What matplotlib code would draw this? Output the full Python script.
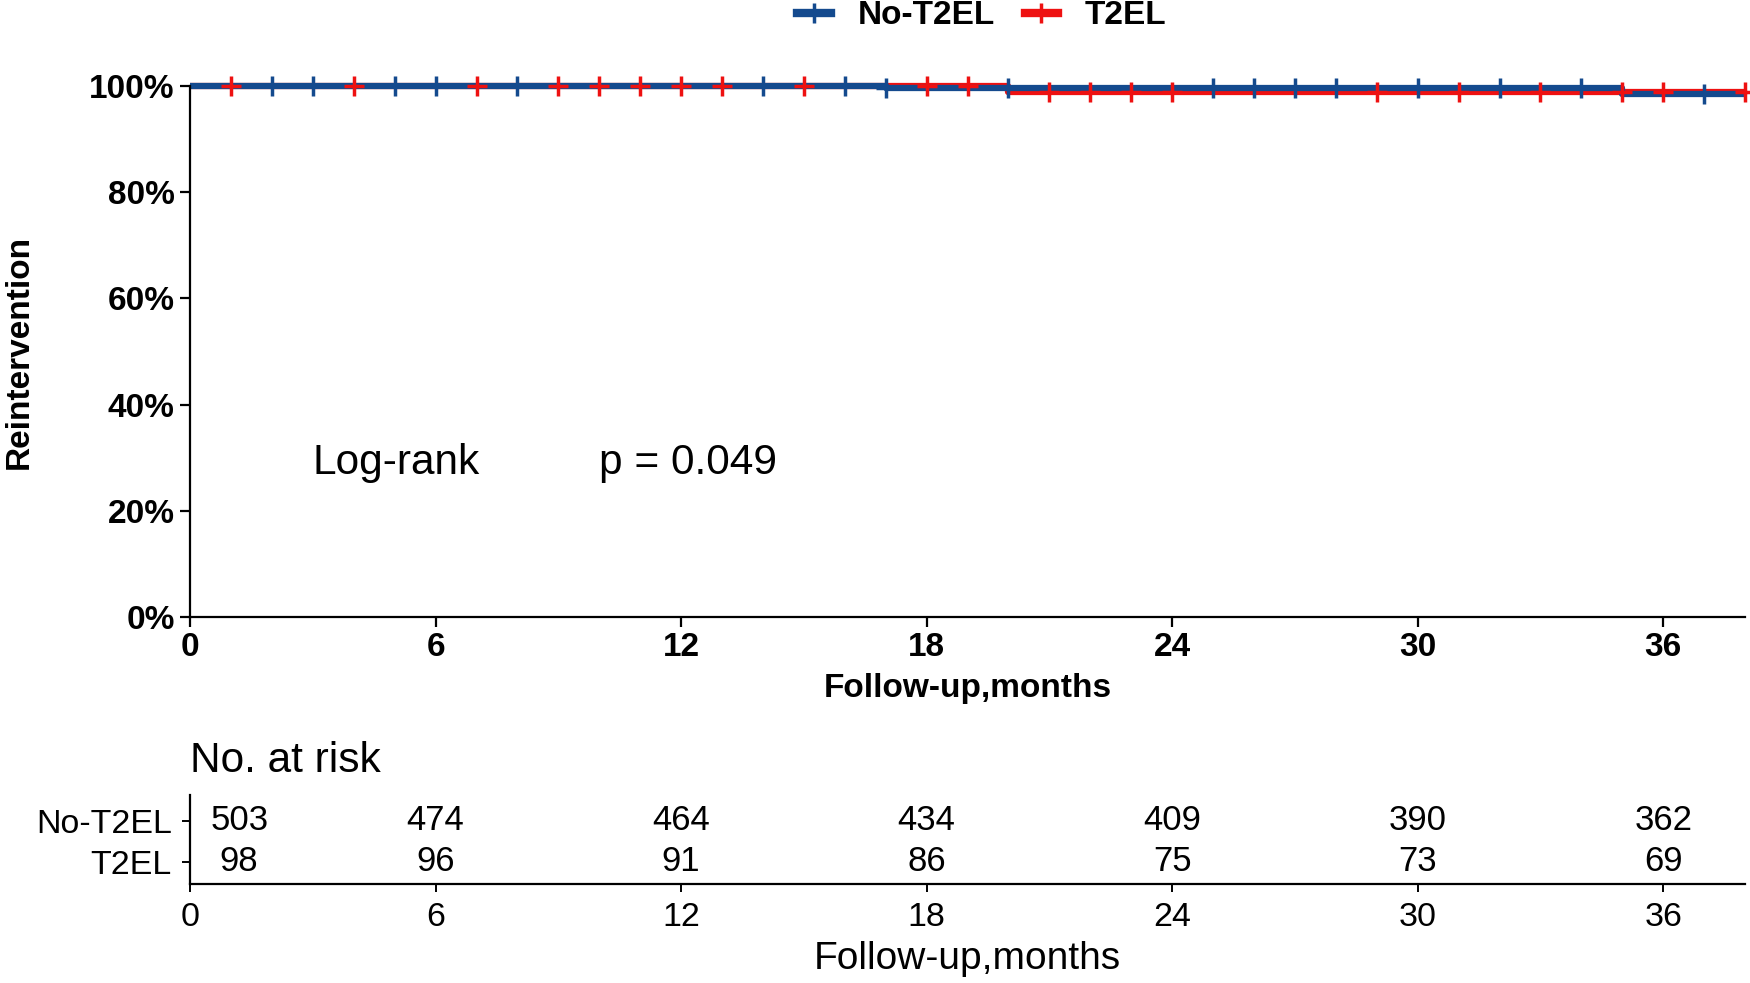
import numpy as np
import matplotlib
matplotlib.use("Agg")
import matplotlib.pyplot as plt
from matplotlib.lines import Line2D

plt.rcParams['font.family'] = ['Liberation Sans', 'DejaVu Sans']

# Data
groups = ["No-T2EL", "T2EL"]
colors = ["#144a8e", "#ee1111"]

# step curves (time in months, proportion without reintervention)
blue_t = [0, 17, 35, 38]
blue_s = [1.0, 0.996, 0.985, 0.985]
red_t = [0, 20, 38]
red_s = [1.0, 0.988, 0.988]

# censoring times
blue_cens = [2, 3, 5, 6, 8, 14, 16, 17, 20, 25, 26, 27, 28, 30, 32, 34, 37]
red_cens = [1, 4, 7, 9, 10, 11, 12, 13, 15, 18, 19, 21, 22, 23, 24, 29, 31, 33, 35, 36, 38]

risk_times = [0, 6, 12, 18, 24, 30, 36]
risk_blue = [503, 474, 464, 434, 409, 390, 362]
risk_red = [98, 96, 91, 86, 75, 73, 69]

yticks = [0, 0.2, 0.4, 0.6, 0.8, 1.0]
ylabels = ["0%", "20%", "40%", "60%", "80%", "100%"]

fig = plt.figure(figsize=(17.5, 9.83), dpi=100)

# ---- survival panel ----
ax = fig.add_axes([0.1086, 0.3723, 0.8886, 0.5402])

def surv_at(times, surv, t):
    i = np.searchsorted(times, t, side='right') - 1
    return np.array(surv)[i]

curves = [(red_t, red_s, red_cens, colors[1]), (blue_t, blue_s, blue_cens, colors[0])]
for t, s, cens, col in curves:
    ax.step(t, s, where='post', color=col, lw=4.5, clip_on=False, solid_capstyle='butt')
for t, s, cens, col in curves:
    ax.plot(cens, surv_at(t, s, cens), ls='none', marker='+', ms=15, mew=2.5,
            color=col, clip_on=False)

ax.set_xlim(0, 38)
ax.set_ylim(0, 1.0)
ax.set_xticks(risk_times)
ax.set_yticks(yticks)
ax.set_yticklabels(ylabels)
for sp in ["top", "right"]:
    ax.spines[sp].set_visible(False)
for sp in ["left", "bottom"]:
    ax.spines[sp].set_linewidth(1.6)
ax.tick_params(length=7, width=1.6, labelsize=24, pad=4)
for lab in ax.get_xticklabels() + ax.get_yticklabels():
    lab.set_fontweight('bold')
ax.set_xlabel("Follow-up,months", fontsize=24, fontweight='bold', labelpad=7)
ax.set_ylabel("Reintervention", fontsize=24, fontweight='bold', labelpad=39)

ax.text(3, 0.29, "Log-rank", fontsize=30.5, va='center', ha='left')
ax.text(10, 0.29, "p = 0.049", fontsize=30.5, va='center', ha='left')

handles = [Line2D([0], [0], color=c, lw=6, marker='+', ms=15, mew=2.5) for c in colors]
fig.legend(handles, groups, loc='center', bbox_to_anchor=(0.561, 0.984), ncol=2,
           frameon=False, prop={'weight': 'bold', 'size': 24}, handlelength=1.0,
           handletextpad=0.8, columnspacing=0.9, borderaxespad=0)

# ---- risk table ----
rx = fig.add_axes([0.1086, 0.1007, 0.8886, 0.0905])
rx.set_xlim(0, 38)
rx.set_ylim(-0.54, 1.63)
pos = np.array(risk_times, dtype=float)
pos[0] += 1.2
for xv, n in zip(pos, risk_blue):
    rx.text(xv, 1, str(n), ha='center', va='center', fontsize=25)
for xv, n in zip(pos, risk_red):
    rx.text(xv, 0, str(n), ha='center', va='center', fontsize=25)
rx.set_yticks([1, 0])
rx.set_yticklabels(groups)
rx.set_xticks(risk_times)
for sp in ["top", "right"]:
    rx.spines[sp].set_visible(False)
for sp in ["left", "bottom"]:
    rx.spines[sp].set_linewidth(1.6)
rx.tick_params(length=6, width=1.4, labelsize=24.5, pad=7)
rx.set_xlabel("Follow-up,months", fontsize=28, labelpad=6)
fig.text(0.1086, 0.226, "No. at risk", fontsize=30.5, ha='left', va='center')

fig.savefig("out.png", dpi=100)
